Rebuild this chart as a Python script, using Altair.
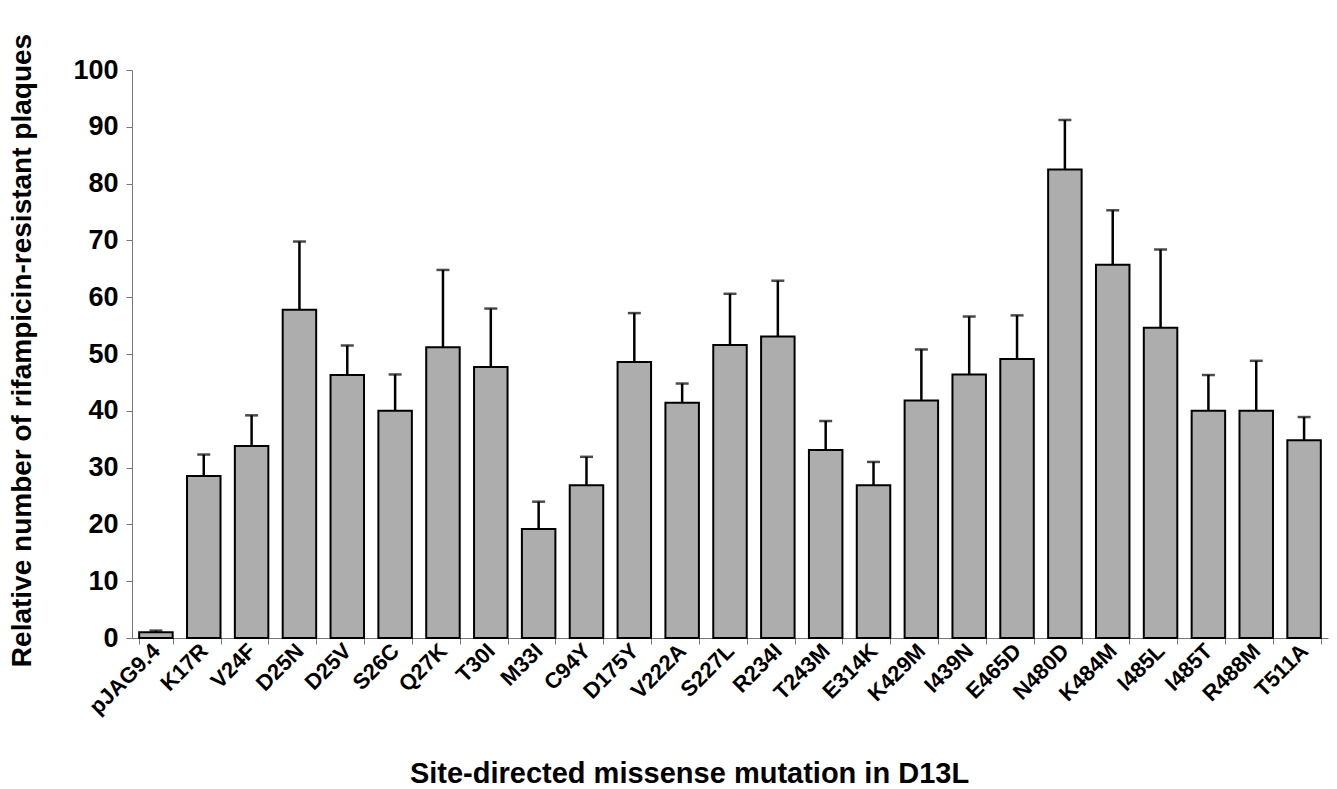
import altair as alt
import pandas as pd

categories = ["pJAG9.4", "K17R", "V24F", "D25N", "D25V", "S26C", "Q27K", "T30I", "M33I", "C94Y",
              "D175Y", "V222A", "S227L", "R234I", "T243M", "E314K", "K429M", "I439N", "E465D",
              "N480D", "K484M", "I485L", "I485T", "R488M", "T511A"]
values = [1.0, 28.5, 33.8, 57.8, 46.3, 40.0, 51.2, 47.7, 19.2, 26.9,
          48.6, 41.4, 51.6, 53.1, 33.1, 26.9, 41.8, 46.4, 49.1,
          82.5, 65.7, 54.6, 40.0, 40.0, 34.8]
upper = [1.3, 32.3, 39.2, 69.8, 51.5, 46.4, 64.8, 58.0, 24.0, 31.9,
         57.2, 44.8, 60.6, 62.9, 38.2, 31.0, 50.8, 56.6, 56.8,
         91.2, 75.3, 68.4, 46.3, 48.8, 38.9]

df = pd.DataFrame({"cat": categories, "val": values, "up": upper})

FONT = "Liberation Sans"

x = alt.X("cat:N", sort=categories, scale=alt.Scale(paddingInner=0.3, paddingOuter=0.15),
          axis=alt.Axis(title="Site-directed missense mutation in D13L", labelAngle=-45,
                        labelFont=FONT, labelFontSize=22, labelFontWeight="bold", labelColor="black",
                        titleFont=FONT, titleFontSize=29, titleFontWeight="bold", titleColor="black",
                        tickBand="extent", tickSize=6, tickColor="#777777", domainColor="#777777",
                        labelPadding=3, titleX=557, titleY=135, titleAlign="center",
                        titleBaseline="middle"))
y = alt.Y("val:Q", scale=alt.Scale(domain=[0, 100], nice=False),
          axis=alt.Axis(title="Relative number of rifampicin-resistant plaques",
                        values=list(range(0, 101, 10)), grid=False,
                        labelFont=FONT, labelFontSize=27, labelFontWeight="bold", labelColor="black",
                        titleFont=FONT, titleFontSize=28, titleFontWeight="bold", titleColor="black",
                        tickSize=6, tickColor="#777777", domainColor="#777777",
                        labelPadding=8, titleX=-110, titleY=280, titleAngle=-90,
                        titleAlign="center", titleBaseline="middle"))

base = alt.Chart(df)

err = base.mark_rule(color="black", strokeWidth=2.5).encode(
    x=alt.X("cat:N", sort=categories), y="val:Q", y2="up:Q")
cap = base.mark_tick(color="black", thickness=2.5, size=13).encode(
    x=alt.X("cat:N", sort=categories), y="up:Q")
bars = base.mark_bar(color="#adadad", stroke="black", strokeWidth=2).encode(x=x, y=y)

chart = alt.layer(err, cap, bars).properties(
    width=1196, height=568,
    autosize=alt.AutoSizeParams(type="none"),
    padding={"left": 132, "top": 70, "right": 9, "bottom": 151},
    background="white",
).configure_view(stroke=None)

chart.save("out.html", embed_options={"renderer": "svg", "actions": False})
